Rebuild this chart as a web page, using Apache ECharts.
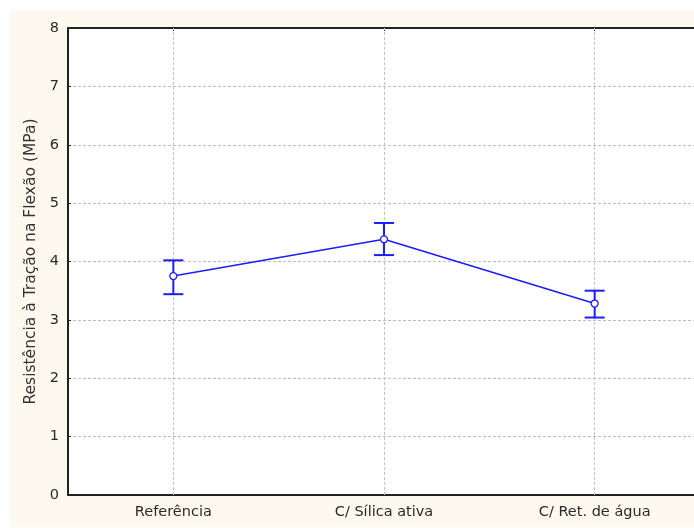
<!DOCTYPE html>
<html>
<head>
<meta charset="utf-8">
<script src="https://cdn.jsdelivr.net/npm/echarts@6/dist/echarts.min.js"></script>
<style>
  html, body { margin: 0; padding: 0; background: #ffffff; overflow: hidden; }
  #chart { width: 700px; height: 528px; }
</style>
</head>
<body>
<div id="chart"></div>
<script>
// Flexural tensile strength by mix, mean with confidence interval
const categories = ['Referência', 'C/ Sílica ativa', 'C/ Ret. de água'];
const means = [3.75, 4.38, 3.28];
const upper = [4.02, 4.66, 3.50];
const lower = [3.44, 4.11, 3.04];
const yTicks = [0, 1, 2, 3, 4, 5, 6, 7, 8];

const blue = '#1c1cff';
const fontFamily = '"DejaVu Sans", sans-serif';

const chart = echarts.init(document.getElementById('chart'), null, { renderer: 'canvas' });

const errorData = categories.map((c, i) => [i, lower[i], upper[i]]);

chart.setOption({
  backgroundColor: '#ffffff',
  animation: false,
  graphic: [{
    type: 'rect',
    z: -10,
    shape: { x: 10, y: 10, width: 690, height: 517 },
    style: { fill: '#fdf9ee' }
  }, {
    type: 'rect',
    z: -9,
    shape: { x: 68, y: 28, width: 632, height: 467 },
    style: { fill: '#ffffff' }
  }],
  grid: { left: 68, top: 28, right: 0, bottom: 33, containLabel: false },
  xAxis: [{
    type: 'category',
    data: categories,
    boundaryGap: true,
    axisLine: { lineStyle: { color: '#222', width: 2 } },
    axisTick: { show: true, alignWithLabel: true, inside: true, length: 3, lineStyle: { color: '#222', width: 1 } },
    axisLabel: { color: '#2a2a2a', fontSize: 14.5, fontFamily: fontFamily, margin: 10 },
    splitLine: { show: false }
  }, {
    type: 'category',
    data: categories,
    position: 'top',
    boundaryGap: true,
    axisLine: { lineStyle: { color: '#222', width: 2 } },
    axisTick: { show: true, alignWithLabel: true, inside: true, length: 3, lineStyle: { color: '#222', width: 1 } },
    axisLabel: { show: false },
    splitLine: { show: false }
  }],
  yAxis: {
    type: 'value',
    min: 0,
    max: 8,
    interval: 1,
    name: 'Resistência à Tração na Flexão (MPa)',
    nameLocation: 'middle',
    nameGap: 28,
    nameTextStyle: { color: '#333', fontSize: 15.5, fontFamily: fontFamily },
    axisLine: { show: true, lineStyle: { color: '#222', width: 2 } },
    axisTick: { show: true, inside: true, length: 3, lineStyle: { color: '#222', width: 1 } },
    axisLabel: {
      color: '#2a2a2a', fontSize: 14.5, fontFamily: fontFamily, margin: 9,
      formatter: v => yTicks.includes(v) ? String(v) : ''
    },
    splitLine: { show: true, lineStyle: { color: '#bdbdbd', type: [3, 2], width: 1 } }
  },
  series: [{
    type: 'line',
    data: means,
    z: 5,
    symbol: 'circle',
    symbolSize: 7,
    itemStyle: { color: '#ffffff', borderColor: blue, borderWidth: 1.3 },
    lineStyle: { color: blue, width: 1.5 },
    markLine: {
      silent: true,
      symbol: 'none',
      label: { show: false },
      lineStyle: { color: '#c4c4c4', type: [3, 2], width: 1 },
      z: 1,
      data: categories.map(c => ({ xAxis: c }))
    }
  }, {
    type: 'custom',
    z: 4,
    data: errorData,
    renderItem: function (params, api) {
      const x = api.value(0);
      const lo = api.coord([x, api.value(1)]);
      const hi = api.coord([x, api.value(2)]);
      const half = 10;
      const style = { stroke: blue, lineWidth: 2, fill: null };
      return {
        type: 'group',
        children: [
          { type: 'line', shape: { x1: hi[0], y1: hi[1], x2: lo[0], y2: lo[1] }, style: style },
          { type: 'line', shape: { x1: hi[0] - half, y1: hi[1], x2: hi[0] + half, y2: hi[1] }, style: style },
          { type: 'line', shape: { x1: lo[0] - half, y1: lo[1], x2: lo[0] + half, y2: lo[1] }, style: style }
        ]
      };
    }
  }]
});
</script>
</body>
</html>
